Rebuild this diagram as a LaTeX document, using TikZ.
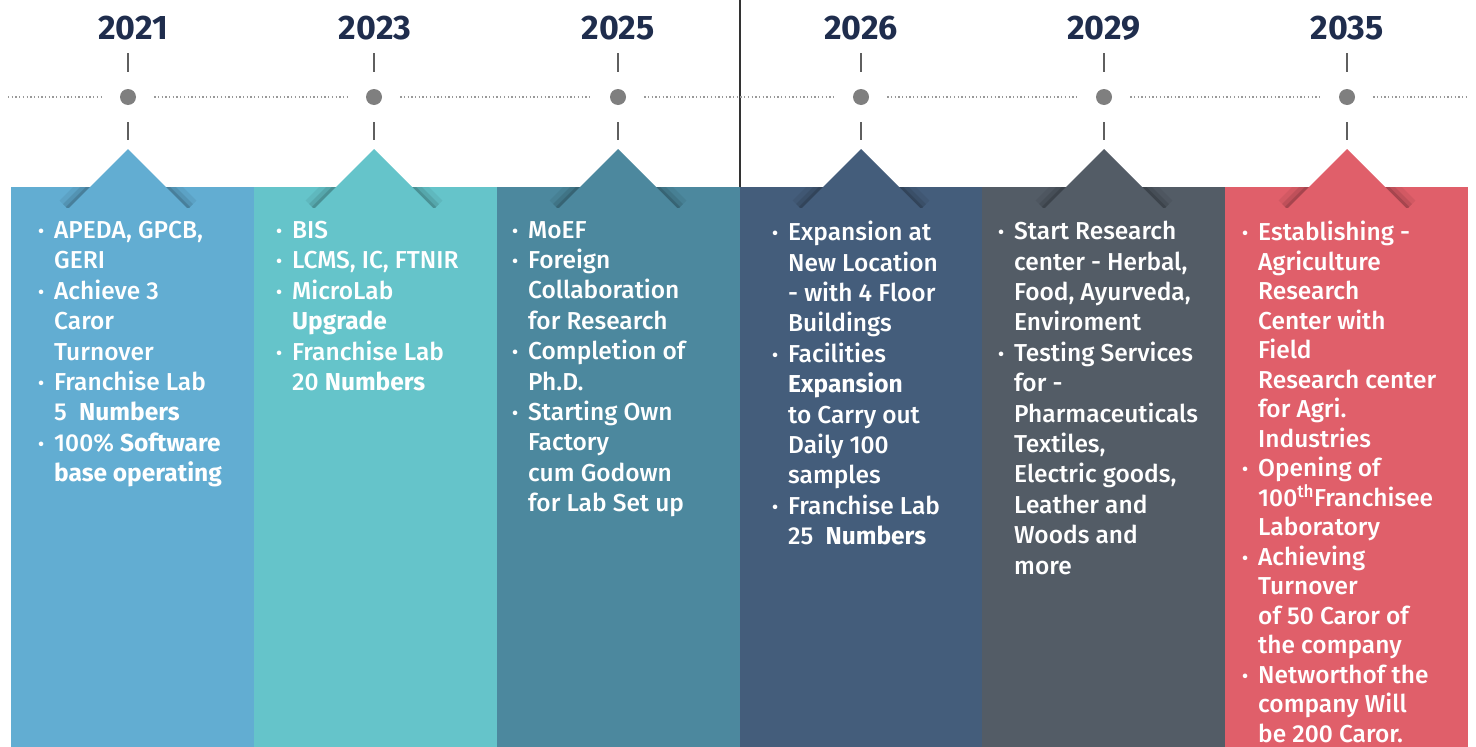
\documentclass[tikz,border=0pt]{standalone}
\usepackage{fontspec}
\IfFontExistsTF{Fira Sans Medium}{\setmainfont{Fira Sans Medium}[BoldFont=Fira Sans Bold]}{\setmainfont{Fira Sans}}
\definecolor{yearblue}{HTML}{1F2D4D}
\definecolor{dotgray}{HTML}{7F7F7F}
\definecolor{tickgray}{HTML}{5F5F5F}
\definecolor{colA}{HTML}{62ADD2}
\definecolor{colB}{HTML}{65C4CA}
\definecolor{colC}{HTML}{4C889E}
\definecolor{colD}{HTML}{445D7B}
\definecolor{colE}{HTML}{535C66}
\definecolor{colF}{HTML}{E05F6A}
\newcommand\itm{\makebox[16pt][l]{\raisebox{1pt}{\fontsize{18}{18}\selectfont•}}}
\newcommand\cnt{\hspace*{16pt}}
% triangle with soft shadow on its two edges
\newcommand\peak[2]{%
\begin{scope}
\clip (#1-80,187) rectangle (#1+80,207);
\draw[black, opacity=.06, line width=24pt] (#1-60,209) -- (#1,149) -- (#1+60,209);
\draw[black, opacity=.09, line width=14pt] (#1-60,209) -- (#1,149) -- (#1+60,209);
\draw[black, opacity=.13, line width=6pt] (#1-60,209) -- (#1,149) -- (#1+60,209);
\end{scope}
\fill[#2] (#1,149) -- (#1+60,209) -- (#1-60,209) -- cycle;
}
\begin{document}
\begin{tikzpicture}[x=1pt, y=-1pt,
year node/.style={font=\bfseries\fontsize{34}{34}\selectfont, text=yearblue, inner sep=0pt},
dot node/.style={circle, fill=dotgray, minimum size=16pt, inner sep=0pt},
tick/.style={draw=tickgray, line width=2pt},
dots line/.style={draw=dotgray!80, line width=1.3pt, dash pattern=on 1.3pt off 2.4pt},
col text/.style={anchor=north west, align=left, inner sep=0pt, text=white, font=\fontsize{24.5}{30.4}\selectfont}]
\useasboundingbox (0,0) rectangle (1476,747);

% columns
\fill[colA] (11,187) rectangle (254,747);
\fill[colB] (254,187) rectangle (497,747);
\fill[colC] (497,187) rectangle (740,747);
\fill[colD] (740,187) rectangle (982,747);
\fill[colE] (982,187) rectangle (1225,747);
\fill[colF] (1225,187) rectangle (1468,747);
\draw[black!80, line width=1.5pt] (740,0) -- (740,187);

\peak{128}{colA}
\peak{374}{colB}
\peak{618}{colC}
\peak{861}{colD}
\peak{1104}{colE}
\peak{1347}{colF}

\begin{scope}
\node[year node] (y1) at (133,28) {2021};
\node[year node] (y2) at (375,28) {2023};
\node[year node] (y3) at (618,28) {2025};
\node[year node] (y4) at (861,28) {2026};
\node[year node] (y5) at (1104,28) {2029};
\node[year node] (y6) at (1347,28) {2035};
\node[dot node] (d1) at (128,97) {};
\node[dot node] (d2) at (374,97) {};
\node[dot node] (d3) at (618,97) {};
\node[dot node] (d4) at (861,97) {};
\node[dot node] (d5) at (1104,97) {};
\node[dot node] (d6) at (1347,97) {};
\coordinate (t1) at (128,149);
\coordinate (t2) at (374,149);
\coordinate (t3) at (618,149);
\coordinate (t4) at (861,149);
\coordinate (t5) at (1104,149);
\coordinate (t6) at (1347,149);
\coordinate (l) at (8,97);
\coordinate (r) at (1468,97);
\end{scope}

\begin{scope}
\draw[dots line, shorten >=18pt] (l) -- (d1);
\draw[dots line, shorten <=18pt, shorten >=18pt] (d1) -- (d2);
\draw[dots line, shorten <=18pt, shorten >=18pt] (d2) -- (d3);
\draw[dots line, shorten <=18pt, shorten >=18pt] (d3) -- (d4);
\draw[dots line, shorten <=18pt, shorten >=18pt] (d4) -- (d5);
\draw[dots line, shorten <=18pt, shorten >=18pt] (d5) -- (d6);
\draw[dots line, shorten <=18pt] (d6) -- (r);
\draw[tick, shorten <=13pt, shorten >=17pt] (y1.south -| d1) -- (d1);
\draw[tick, shorten <=13pt, shorten >=17pt] (y2.south -| d2) -- (d2);
\draw[tick, shorten <=13pt, shorten >=17pt] (y3.south -| d3) -- (d3);
\draw[tick, shorten <=13pt, shorten >=17pt] (y4.south -| d4) -- (d4);
\draw[tick, shorten <=13pt, shorten >=17pt] (y5.south -| d5) -- (d5);
\draw[tick, shorten <=13pt, shorten >=17pt] (y6.south -| d6) -- (d6);
\draw[tick, shorten <=17pt, shorten >=9pt] (d1) -- (t1);
\draw[tick, shorten <=17pt, shorten >=9pt] (d2) -- (t2);
\draw[tick, shorten <=17pt, shorten >=9pt] (d3) -- (t3);
\draw[tick, shorten <=17pt, shorten >=9pt] (d4) -- (t4);
\draw[tick, shorten <=17pt, shorten >=9pt] (d5) -- (t5);
\draw[tick, shorten <=17pt, shorten >=9pt] (d6) -- (t6);
\end{scope}

% texts
\node[col text] (c1) at (38,221) {\itm APEDA, GPCB,\\ \cnt GERI\\ \itm Achieve 3\\ \cnt Caror\\ \cnt Turnover\\ \itm Franchise Lab\\ \cnt 5\ \ \textbf{Numbers}\\ \itm 100\% \textbf{Software}\\ \cnt\textbf{base operating}};
\node[col text] (c2) at (276,221) {\itm BIS\\ \itm LCMS, IC, FTNIR\\ \itm MicroLab\\ \cnt\textbf{Upgrade}\\ \itm Franchise Lab\\ \cnt 20 \textbf{Numbers}};
\node[col text] (c3) at (512,221) {\itm MoEF\\ \itm Foreign\\ \cnt Collaboration\\ \cnt for Research\\ \itm Completion of\\ \cnt Ph.D.\\ \itm Starting Own\\ \cnt Factory\\ \cnt cum Godown\\ \cnt for Lab Set up};
\node[col text] (c4) at (772,221) {\itm Expansion at\\ \cnt New Location\\ \cnt - with 4 Floor\\ \cnt Buildings\\ \itm Facilities\\ \cnt\textbf{Expansion}\\ \cnt to Carry out\\ \cnt Daily 100\\ \cnt samples\\ \itm Franchise Lab\\ \cnt 25\ \ \textbf{Numbers}};
\node[col text] (c5) at (998,221) {\itm Start Research\\ \cnt center - Herbal,\\ \cnt Food, Ayurveda,\\ \cnt Enviroment\\ \itm Testing Services\\ \cnt for -\\ \cnt Pharmaceuticals\\ \cnt Textiles,\\ \cnt Electric goods,\\ \cnt Leather and\\ \cnt Woods and\\ \cnt more};
\node[col text, font=\fontsize{24.5}{29.5}\selectfont] (c6) at (1242,221) {\itm Establishing -\\ \cnt Agriculture\\ \cnt Research\\ \cnt Center with\\ \cnt Field\\ \cnt Research center\\ \cnt for Agri.\\ \cnt Industries\\ \itm Opening of\\ \cnt 100\textsuperscript{th}Franchisee\\ \cnt Laboratory\\ \itm Achieving\\ \cnt Turnover\\ \cnt of 50 Caror of\\ \cnt the company\\ \itm Networthof the\\ \cnt company Will\\ \cnt be 200 Caror.};
\end{tikzpicture}
\end{document}
